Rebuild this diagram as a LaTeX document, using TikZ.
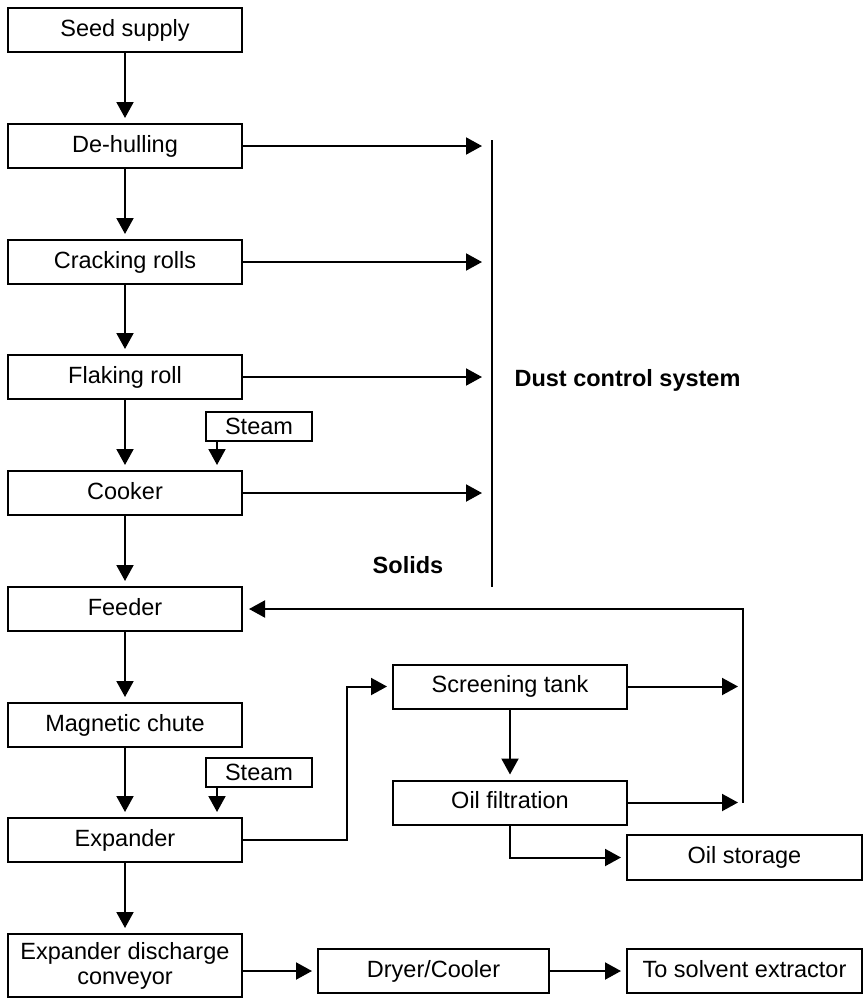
\documentclass[tikz,border=0pt]{standalone}
\usepackage{fontspec}
\setmainfont{Liberation Sans}
\usetikzlibrary{arrows.meta}
\begin{document}
\begin{tikzpicture}[x=1pt,y=-1pt,
  box/.style={draw,line width=2pt,inner sep=0pt,align=center,text height=17pt,text depth=5pt,font=\fontsize{23.5}{25}\selectfont},
  lbox/.style={box,minimum width=234pt,minimum height=44pt},
  sbox/.style={box,minimum width=106pt,minimum height=29pt,text height=21.5pt,text depth=5pt},
  conn/.style={line width=2pt,shorten >=5pt,-{Triangle[length=16pt,width=17pt]}},
  dconn/.style={conn,shorten >=10pt},
  plain/.style={line width=2pt},
  thin/.style={line width=1.4pt},
  lbl/.style={font=\fontsize{23.5}{25}\selectfont\bfseries}]
\useasboundingbox (0,0) rectangle (864,999);
% left column
\node[lbox] (seed) at (125,30) {Seed supply};
\node[lbox] (dehull) at (125,146) {De-hulling};
\node[lbox] (crack) at (125,262) {Cracking rolls};
\node[lbox] (flak) at (125,377) {Flaking roll};
\node[lbox] (cook) at (125,493) {Cooker};
\node[lbox] (feed) at (125,609) {Feeder};
\node[lbox] (mag) at (125,725) {Magnetic chute};
\node[lbox] (exp) at (125,840) {Expander};
\node[lbox,minimum height=63pt,text height=,text depth=] (edc) at (125,965.5) {Expander discharge\\conveyor};
% steam
\node[sbox] (steam1) at (259,426.5) {Steam};
\node[sbox] (steam2) at (259,772.5) {Steam};
% right part
\node[lbox] (screen) at (510,686.5) {Screening tank};
\node[lbox] (oilf) at (510,802.5) {Oil filtration};
\node[box,minimum width=235pt,minimum height=45pt] (store) at (744.5,857.5) {Oil storage};
\node[box,minimum width=231pt,minimum height=44pt] (dryer) at (433.5,971) {Dryer/Cooler};
\node[box,minimum width=235pt,minimum height=44pt] (solv) at (744.5,971) {To solvent extractor};
% labels
\node[lbl,anchor=west] (dust) at (511,380) {Dust control system};
\node[lbl] (solids) at (408,565) {Solids};
% coordinates
\coordinate (dtop) at (492,140);
\coordinate (dbot) at (492,587);
\coordinate (sx) at (217,0);
\coordinate (j1) at (347,0);
\coordinate (rl) at (743,0);
% main flow
\draw[conn] (seed.south) -- (dehull.north);
\draw[conn] (dehull.south) -- (crack.north);
\draw[conn] (crack.south) -- (flak.north);
\draw[conn] (flak.south) -- (cook.north);
\draw[conn] (cook.south) -- (feed.north);
\draw[conn] (feed.south) -- (mag.north);
\draw[conn] (mag.south) -- (exp.north);
\draw[conn] (exp.south) -- (edc.north);
\draw[conn] (steam1.south -| sx) -- (cook.north -| sx);
\draw[conn] (steam2.south -| sx) -- (exp.north -| sx);
% dust
\draw[thin] (dtop) -- (dbot);
\draw[dconn] (dehull.east) -- (dehull.east -| dtop);
\draw[dconn] (crack.east) -- (crack.east -| dtop);
\draw[dconn] (flak.east) -- (flak.east -| dtop);
\draw[dconn] (cook.east) -- (cook.east -| dtop);
% expander branch
\draw[conn] (exp.east) -- (exp.east -| j1) |- (screen.west);
\draw[conn] (screen.south) -- (oilf.north);
\draw[conn] (screen.east) -- (screen.east -| rl);
\draw[conn] (oilf.east) -- (oilf.east -| rl);
\draw[conn,shorten >=6pt] (oilf.east -| rl) -- (feed.east -| rl) -- (feed.east);
\draw[conn] (oilf.south) |- (store.west);
% bottom
\draw[conn] (edc.east |- dryer.west) -- (dryer.west);
\draw[conn] (dryer.east) -- (solv.west);
\end{tikzpicture}
\end{document}
